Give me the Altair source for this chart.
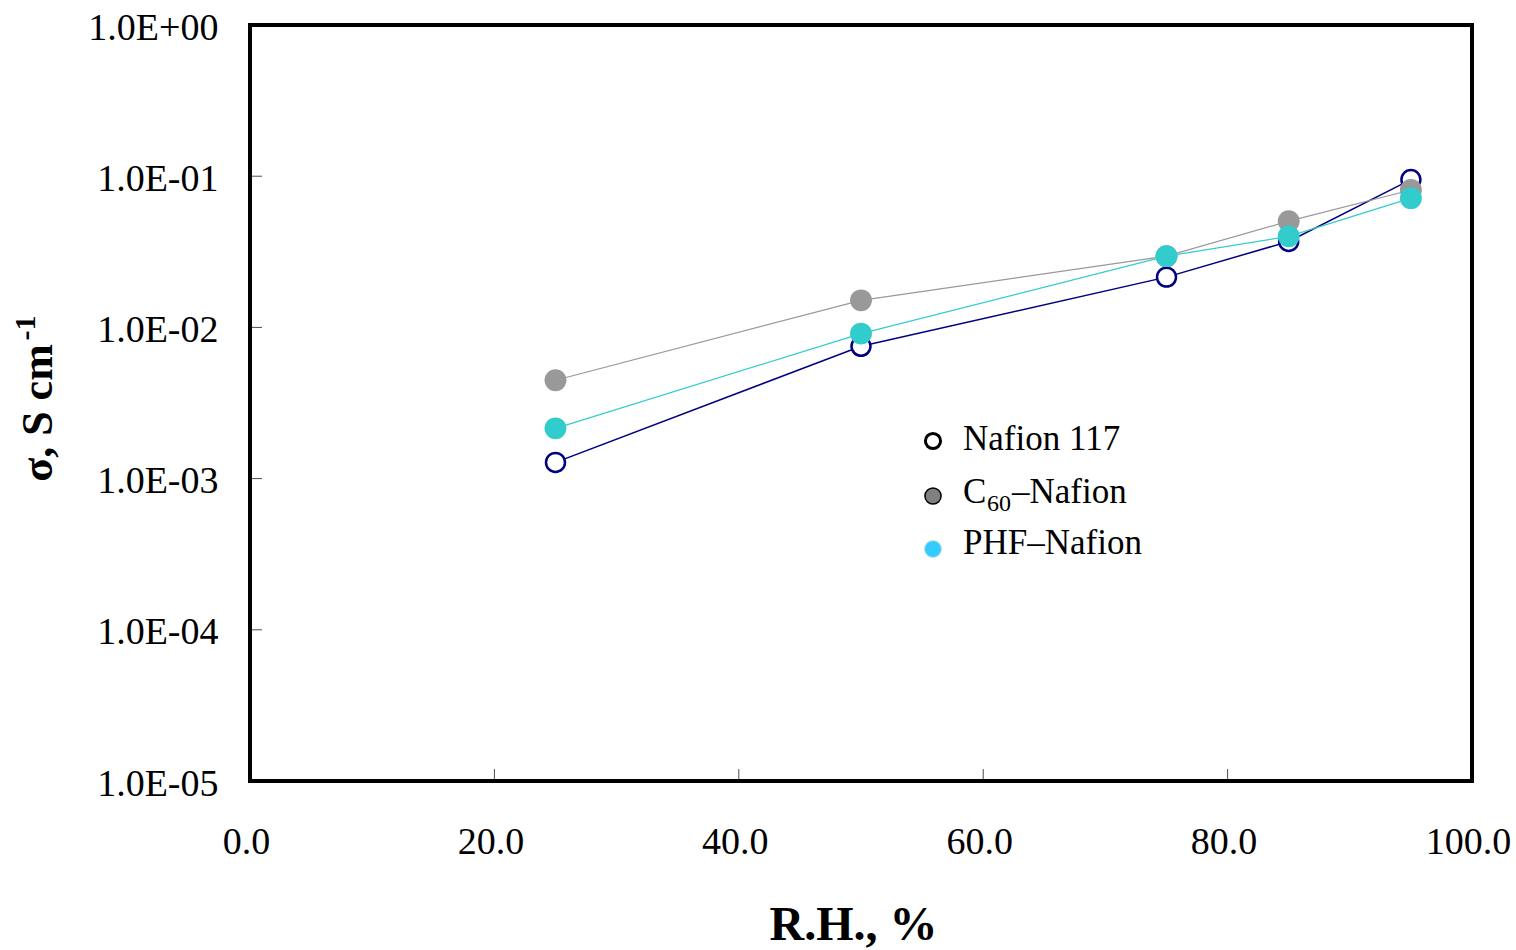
import altair as alt
import pandas as pd

# ---- data ----
rh = [25.0, 50.0, 75.0, 85.0, 95.0]
nafion117 = [1.28e-3, 7.5e-3, 0.0215, 0.037, 0.095]
c60_nafion = [4.47e-3, 0.0151, 0.0296, 0.0504, 0.081]
phf_nafion = [2.15e-3, 9.1e-3, 0.0296, 0.040, 0.0716]

x_tick_values = [0.0, 20.0, 40.0, 60.0, 80.0, 100.0]
x_inner_ticks = [20.0, 40.0, 60.0, 80.0]
y_tick_values = [1e-5, 1e-4, 1e-3, 1e-2, 1e-1, 1e0]
y_inner_ticks = [1e-4, 1e-3, 1e-2, 1e-1]

legend_labels = ["Nafion 117", "C60–Nafion", "PHF–Nafion"]

W, H = 1222, 756
FONT = "Liberation Serif"

xs = alt.Scale(domain=[0, 100], nice=False)
ys = alt.Scale(type="log", domain=[1e-5, 1], nice=False)

def series_df(vals):
    return pd.DataFrame({"rh": rh, "sigma": vals})

x_axis = alt.Axis(values=x_tick_values, format=".1f", title="R.H., %",
                  tickSize=0, domain=False, grid=False, labelPadding=42,
                  titlePadding=40, labelFontSize=38, titleFontSize=48,
                  titleFontWeight="bold", labelFont=FONT, titleFont=FONT,
                  labelColor="black", titleColor="black", labelFlush=False,
                  labelOffset=-4, titleX=603)
y_axis = alt.Axis(values=y_tick_values, title=None, tickSize=0, domain=False, grid=False,
                  labelPadding=32, labelFontSize=38, labelFont=FONT, labelColor="black",
                  labelOffset=3,
                  labelExpr="datum.value >= 1 ? '1.0E+00' : '1.0E-0' + round(-log(datum.value)/LN10)")

def line_layer(vals, color, width):
    return alt.Chart(series_df(vals)).mark_line(color=color, strokeWidth=width).encode(
        x=alt.X("rh:Q", scale=xs, axis=x_axis),
        y=alt.Y("sigma:Q", scale=ys, axis=y_axis),
    )

def point_layer(vals, **kw):
    return alt.Chart(series_df(vals)).mark_point(shape="circle", opacity=1, **kw).encode(
        x=alt.X("rh:Q", scale=xs), y=alt.Y("sigma:Q", scale=ys)
    )

navy_line = line_layer(nafion117, "#000080", 1.5)
navy_pts = point_layer(nafion117, filled=False, color="#000080", strokeWidth=2.5, size=360, fill="white", fillOpacity=1)
grey_line = line_layer(c60_nafion, "#999999", 1.2)
grey_pts = point_layer(c60_nafion, filled=True, color="#999999", size=480)
turq_line = line_layer(phf_nafion, "#33CCCC", 1.2)
turq_pts = point_layer(phf_nafion, filled=True, color="#33CCCC", size=480)

# inward tick marks
xt = alt.Chart(pd.DataFrame({"v": x_inner_ticks})).mark_tick(
    orient="vertical", color="black", thickness=1, size=12).encode(
    x=alt.X("v:Q", scale=xs), y=alt.value(H - 6))
yt = alt.Chart(pd.DataFrame({"v": y_inner_ticks})).mark_tick(
    orient="horizontal", color="black", thickness=1, size=12).encode(
    y=alt.Y("v:Q", scale=ys), x=alt.value(6))

# y title with superscript
ytitle = alt.Chart(pd.DataFrame({"t": ["σ, S cm"]})).mark_text(
    angle=270, font=FONT, fontSize=44, fontWeight="bold", align="center",
    baseline="middle", color="black").encode(
    text="t:N", x=alt.value(-211), y=alt.value(388))
ysup = alt.Chart(pd.DataFrame({"t": ["-1"]})).mark_text(
    angle=270, font=FONT, fontSize=30, fontWeight="bold", align="center",
    baseline="middle", color="black").encode(
    text="t:N", x=alt.value(-224), y=alt.value(303))

# legend
lg_y = [416, 471, 524]
leg1 = alt.Chart(pd.DataFrame({"a": [0]})).mark_point(
    shape="circle", filled=False, color="black", strokeWidth=3, size=230, opacity=1).encode(
    x=alt.value(683), y=alt.value(lg_y[0]))
leg2 = alt.Chart(pd.DataFrame({"a": [0]})).mark_point(
    shape="circle", filled=True, fill="#808080", stroke="black", strokeWidth=1.5,
    opacity=1, size=260).encode(x=alt.value(683), y=alt.value(lg_y[1]))
leg3 = alt.Chart(pd.DataFrame({"a": [0]})).mark_point(
    shape="circle", filled=True, fill="#33CCFF", stroke="#A8E0E0", strokeWidth=1,
    opacity=1, size=280).encode(x=alt.value(683), y=alt.value(lg_y[2]))

def ltext(t, x, y, size=35, baseline="middle"):
    return alt.Chart(pd.DataFrame({"t": [t]})).mark_text(
        font=FONT, fontSize=size, align="left", baseline=baseline, color="black").encode(
        text="t:N", x=alt.value(x), y=alt.value(y))

lt1 = ltext(legend_labels[0], 713, lg_y[0] - 2)
lt2a = ltext("C", 713, lg_y[1] - 4)
lt2b = ltext("60", 737, lg_y[1] + 8, size=24)
lt2c = ltext("–Nafion", 762, lg_y[1] - 4)
lt3 = ltext(legend_labels[2], 713, lg_y[2] - 6)

chart = alt.layer(
    navy_line, navy_pts, grey_line, grey_pts, turq_line, turq_pts,
    xt, yt, ytitle, ysup, leg1, leg2, leg3, lt1, lt2a, lt2b, lt2c, lt3
).properties(
    width=W, height=H,
    autosize=alt.AutoSizeParams(type="none"),
    padding={"left": 250, "top": 25, "right": 44, "bottom": 169},
    background="white",
).configure_view(stroke="black", strokeWidth=4)

chart.save("out.html", embed_options={"renderer": "svg", "actions": False})
